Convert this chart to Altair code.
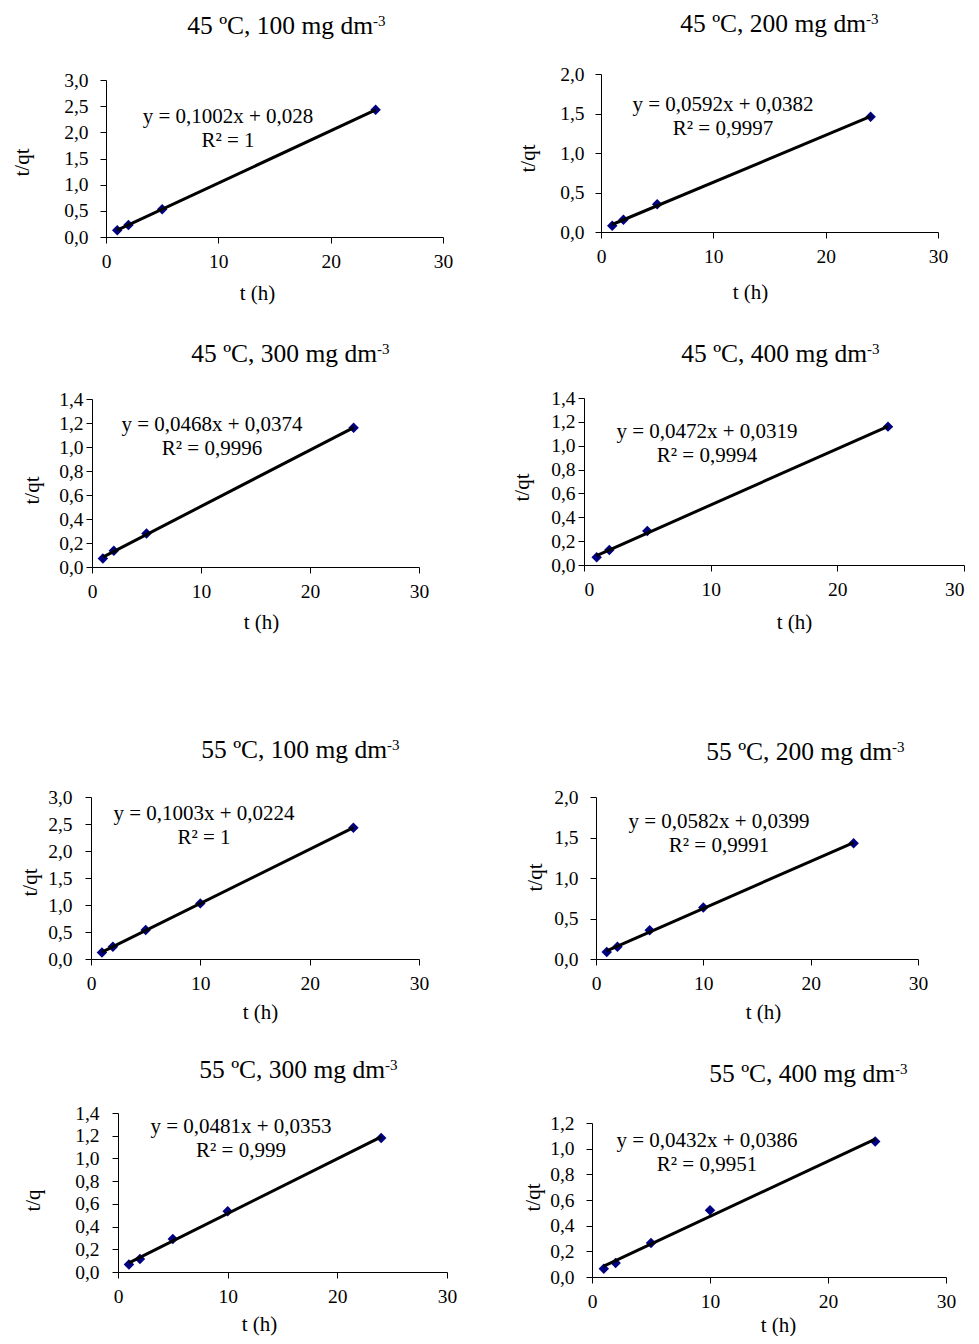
import altair as alt
import pandas as pd

# ---------------- data ----------------
t_45 = [1, 2, 5, 24]
t_55 = [1, 2, 5, 10, 24]

qt_45_100 = [0.13, 0.23, 0.53, 2.43]
qt_45_200 = [0.08, 0.155, 0.35, 1.46]
qt_45_300 = [0.07, 0.135, 0.28, 1.16]
qt_45_400 = [0.065, 0.125, 0.285, 1.16]
qt_55_100 = [0.12, 0.225, 0.535, 1.03, 2.43]
qt_55_200 = [0.085, 0.15, 0.355, 0.635, 1.43]
qt_55_300 = [0.065, 0.115, 0.29, 0.535, 1.18]
qt_55_400 = [0.065, 0.11, 0.265, 0.52, 1.055]

times = [t_45, t_45, t_45, t_45, t_55, t_55, t_55, t_55]
values = [qt_45_100, qt_45_200, qt_45_300, qt_45_400,
          qt_55_100, qt_55_200, qt_55_300, qt_55_400]

titles = ["45 ºC, 100 mg dm", "45 ºC, 200 mg dm", "45 ºC, 300 mg dm", "45 ºC, 400 mg dm",
          "55 ºC, 100 mg dm", "55 ºC, 200 mg dm", "55 ºC, 300 mg dm", "55 ºC, 400 mg dm"]
title_sup = "-3"
equations = ["y = 0,1002x + 0,028", "y = 0,0592x + 0,0382", "y = 0,0468x + 0,0374",
             "y = 0,0472x + 0,0319", "y = 0,1003x + 0,0224", "y = 0,0582x + 0,0399",
             "y = 0,0481x + 0,0353", "y = 0,0432x + 0,0386"]
r_squared = ["R² = 1", "R² = 0,9997", "R² = 0,9996", "R² = 0,9994",
             "R² = 1", "R² = 0,9991", "R² = 0,999", "R² = 0,9951"]
y_titles = ["t/qt", "t/qt", "t/qt", "t/qt", "t/qt", "t/qt", "t/q", "t/qt"]
x_title = "t (h)"
y_max = [3.0, 2.0, 1.4, 1.4, 3.0, 2.0, 1.4, 1.2]
y_step = [0.5, 0.5, 0.2, 0.2, 0.5, 0.5, 0.2, 0.2]
x_ticks = [0, 10, 20, 30]

# ---------------- layout (page pixels) ----------------
M = 8
W, H = 963, 1328
FONT = "Liberation Serif"

# plot box: left, right, top, bottom
boxes = [(106, 443, 80, 237), (601, 938, 74, 232),
         (92, 419, 399, 567), (584, 964, 398, 565),
         (91, 419, 797, 959), (596, 918, 797, 959),
         (118, 447, 1113, 1272), (592, 946, 1123, 1277)]
# panel title: right end of main text, baseline
title_pos = [(373, 34), (866, 32), (377, 362), (867, 362),
             (387, 758), (892, 760), (385, 1078), (895, 1082)]
# equation: centre x, baseline of first line
eq_pos = [(228, 123), (723, 111), (212, 431), (707, 438),
          (204, 820), (719, 828), (241, 1133), (707, 1147)]
# y title centre, x title centre
ytitle_pos = [(22, 162), (528, 158), (32, 490), (522, 487),
              (30, 882), (535, 877), (33, 1200), (533, 1197)]
xtitle_pos = [(257, 293), (750, 292), (261, 622), (794, 622),
              (260, 1012), (763, 1012), (259, 1324), (778, 1325)]
ylabel_pad = [12, 11, 3, 3, 13, 12, 13, 12]
x_flush = [False, False, False, True, False, False, False, False]

one_row = pd.DataFrame({"k": [0]})


def panel(i):
    df = pd.DataFrame({"t": times[i], "v": values[i]})
    left, right, top, bottom = boxes[i]
    n = int(round(y_max[i] / y_step[i]))
    yt = [round(k * y_step[i], 2) for k in range(n + 1)]

    xs = alt.Scale(domain=[0, 30], range=[left - M, right - M], nice=False, zero=False)
    ys = alt.Scale(domain=[0, y_max[i]], range=[bottom - M, top - M], nice=False, zero=False)

    xax = alt.Axis(orient="bottom", offset=(bottom - M) - H, values=x_ticks, format="d",
                   title=x_title, titleX=xtitle_pos[i][0] - M,
                   titleY=xtitle_pos[i][1] - bottom, titleBaseline="middle",
                   labelPadding=9, labelFlush=x_flush[i])
    yax = alt.Axis(orient="left", offset=-(left - M), values=yt,
                   labelExpr="replace(format(datum.value, '.1f'), '.', ',')",
                   title=y_titles[i], titleX=ytitle_pos[i][0] - left,
                   titleY=ytitle_pos[i][1] - M, titleBaseline="middle", titleAngle=270,
                   labelPadding=ylabel_pad[i])

    enc_x = alt.X("t:Q", scale=xs, axis=xax)
    enc_y = alt.Y("v:Q", scale=ys, axis=yax)

    pts = alt.Chart(df).mark_point(shape="diamond", filled=True, size=110,
                                   color="#000080", opacity=1).encode(x=enc_x, y=enc_y)
    line = (alt.Chart(df)
            .transform_regression("t", "v", extent=[1, 24])
            .mark_line(color="black", strokeWidth=3)
            .encode(x=enc_x, y=enc_y))

    tx, ty = title_pos[i]
    ttl = alt.Chart(one_row).mark_text(align="right", baseline="alphabetic", font=FONT,
                                       fontSize=25.5, color="black").encode(
        x=alt.value(tx - M), y=alt.value(ty - M), text=alt.value(titles[i]))
    sup = alt.Chart(one_row).mark_text(align="left", baseline="alphabetic", font=FONT,
                                       fontSize=15, color="black").encode(
        x=alt.value(tx - M), y=alt.value(ty - M - 8), text=alt.value(title_sup))

    ex, ey = eq_pos[i]
    eq = alt.Chart(one_row).mark_text(align="center", baseline="alphabetic", font=FONT,
                                      fontSize=21, color="black", lineBreak="\n",
                                      lineHeight=23.5).encode(
        x=alt.value(ex - M), y=alt.value(ey - M),
        text=alt.value(equations[i] + "\n" + r_squared[i]))

    return alt.layer(pts, line, ttl, sup, eq)


chart = (
    alt.layer(*[panel(i) for i in range(8)])
    .resolve_scale(x="independent", y="independent")
    .properties(width=W, height=H, padding=0,
                autosize=alt.AutoSizeParams(type="none"))
    .configure_view(stroke=None)
    .configure_axis(grid=False, labelFont=FONT, labelFontSize=19.5, labelColor="black",
                    titleFont=FONT, titleFontSize=21, titleFontWeight="normal",
                    titleColor="black", domainColor="black", domainWidth=1,
                    tickColor="black", tickSize=6, tickWidth=1,
                    labelFlush=False, labelOverlap=False)
)

chart.save("out.html", embed_options={"renderer": "svg", "actions": False})
